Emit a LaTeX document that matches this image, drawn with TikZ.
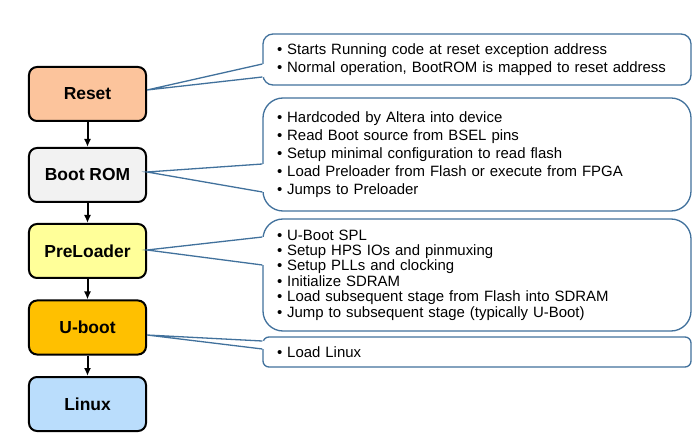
\documentclass[tikz,border=0pt]{standalone}
\usepackage{fontspec}
\setmainfont{Liberation Sans}
\usetikzlibrary{calc}
\usetikzlibrary{arrows.meta}

\definecolor{resetfill}{RGB}{252,196,156}
\definecolor{romfill}{RGB}{242,242,242}
\definecolor{preloadfill}{RGB}{255,255,153}
\definecolor{ubootfill}{RGB}{255,192,0}
\definecolor{linuxfill}{RGB}{186,221,252}
\definecolor{noteblue}{RGB}{65,113,156}

\tikzset{
    stage/.style={draw=black, line width=2bp, rounded corners=8bp,
        minimum width=117bp, minimum height=54bp,
        font=\fontsize{17.5}{20}\selectfont\bfseries},
    note/.style={draw=noteblue, line width=1.3bp, fill=white,
        minimum width=428bp, text width=400bp, inner xsep=14bp, inner ysep=0pt,
        align=left, font=\fontsize{15}{18}\selectfont},
    pointer/.style={draw=noteblue, line width=1.3bp},
    flow/.style={line width=2bp, -{Latex[length=8bp, width=7bp]}},
}

\begin{document}
\begin{tikzpicture}[x=1bp, y=-1bp]
    \useasboundingbox (0,0) rectangle (700,442);

    % Boot stages
    \node[stage, fill=resetfill]   (reset)     at (87.5,94)  {Reset};
    \node[stage, fill=romfill]     (bootrom)   at (87.5,175) {Boot ROM};
    \node[stage, fill=preloadfill] (preloader) at (87.5,251) {PreLoader};
    \node[stage, fill=ubootfill]   (uboot)     at (87.5,327.5) {U-boot};
    \node[stage, fill=linuxfill]   (linux)     at (87.5,404) {Linux};

    % Arrows between stages
    \foreach \a/\b in {reset/bootrom, bootrom/preloader, preloader/uboot, uboot/linux} {
        \draw[flow] (\a.south) -- (\b.north);
    }

    % Notes
    \node[note, rounded corners=10bp, minimum height=51bp] (resetnote) at (477,59.5) {%
        \textbullet\ Starts Running code at reset exception address\\
        \textbullet\ Normal operation, BootROM is mapped to reset address};
    \node[note, rounded corners=20bp, minimum height=113bp] (romnote) at (477,154.5) {%
        \textbullet\ Hardcoded by Altera into device\\
        \textbullet\ Read Boot source from BSEL pins\\
        \textbullet\ Setup minimal configuration to read flash\\
        \textbullet\ Load Preloader from Flash or execute from FPGA\\
        \textbullet\ Jumps to Preloader};
    \node[note, rounded corners=20bp, minimum height=112bp,
        font=\fontsize{15}{15.4}\selectfont] (preloadnote) at (477,275) {%
        \textbullet\ U-Boot SPL\\
        \textbullet\ Setup HPS IOs and pinmuxing\\
        \textbullet\ Setup PLLs and clocking\\
        \textbullet\ Initialize SDRAM\\
        \textbullet\ Load subsequent stage from Flash into SDRAM\\
        \textbullet\ Jump to subsequent stage (typically U-Boot)};
    \node[note, rounded corners=6bp, minimum height=30bp] (ubootnote) at (477,352) {%
        \textbullet\ Load Linux};

    % Pointers from stages to notes
    \foreach \s/\n/\o/\p/\q in {reset/resetnote/-4/4.5/17.5,
                                bootrom/romnote/-3/9.5/37.5,
                                preloader/preloadnote/-1/-38/-10,
                                uboot/ubootnote/7.5/-11/-3} {
        \fill[white] ($(\s.east)+(0,\o)$) -- ($(\n.west)+(1.5,\p)$) -- ($(\n.west)+(1.5,\q)$) -- cycle;
        \draw[pointer] ($(\n.west)+(0,\p)$) -- ($(\s.east)+(0,\o)$) -- ($(\n.west)+(0,\q)$);
    }
\end{tikzpicture}
\end{document}
